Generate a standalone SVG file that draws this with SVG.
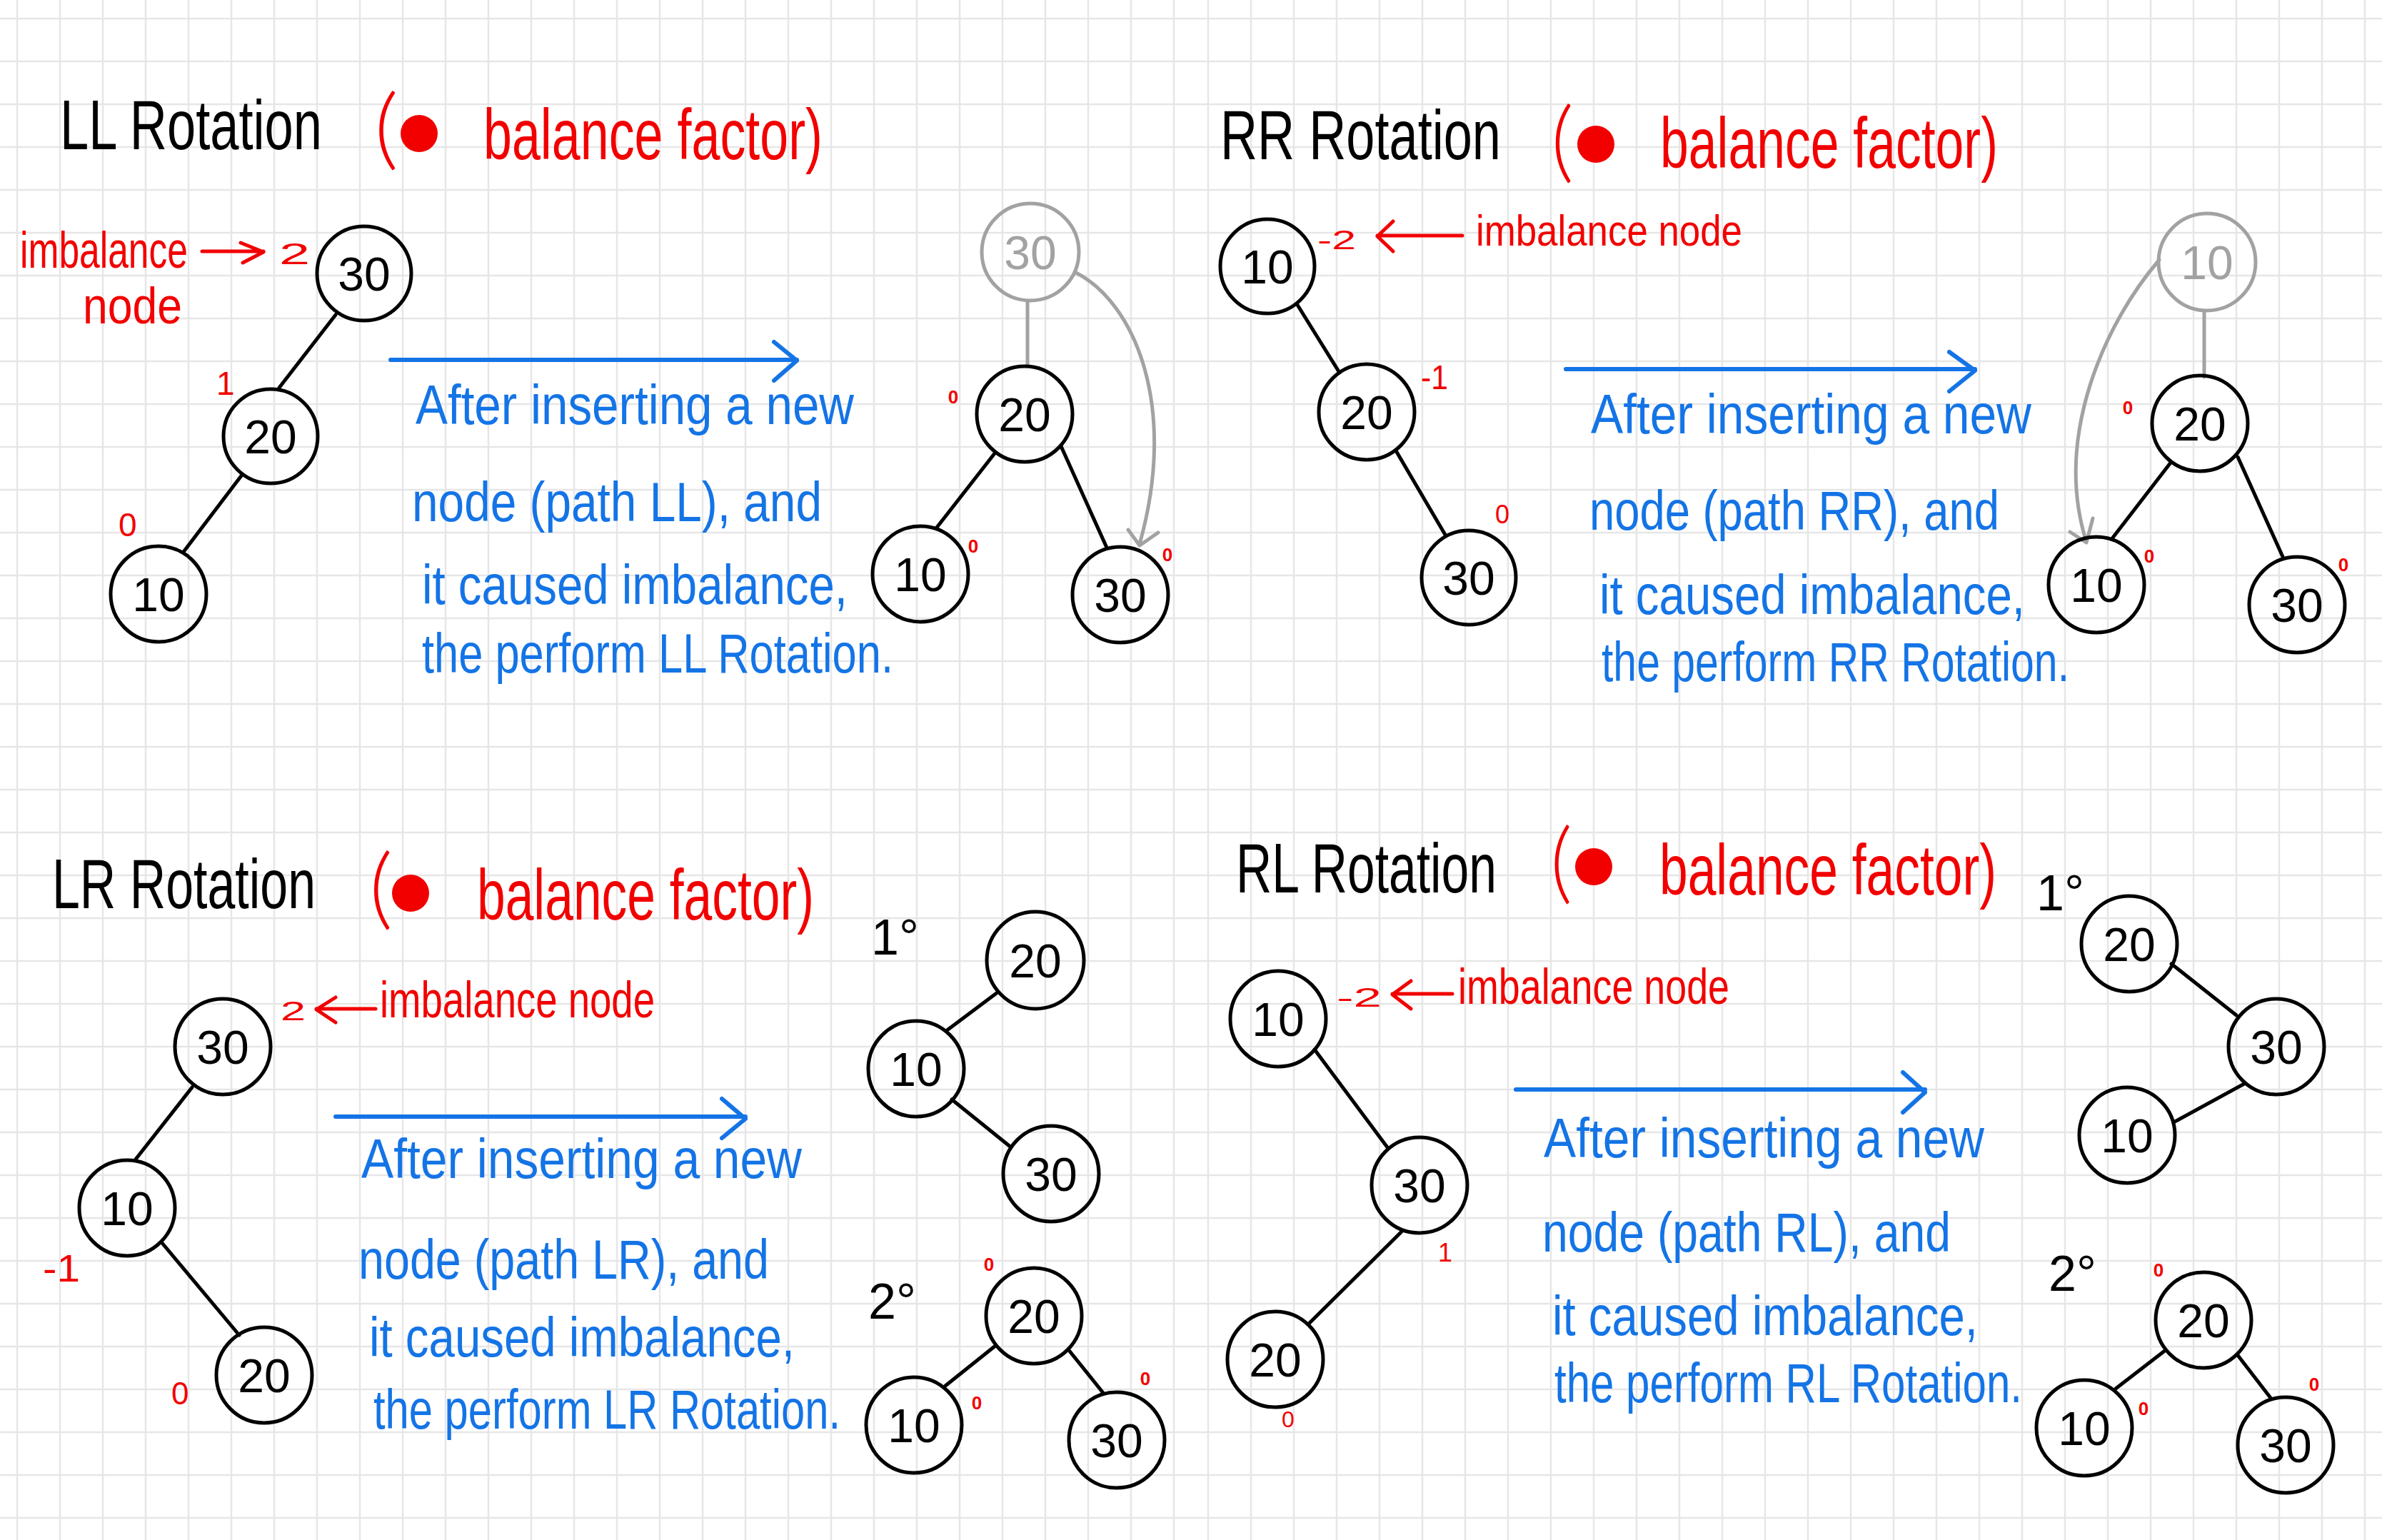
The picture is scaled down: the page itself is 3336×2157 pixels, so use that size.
<svg xmlns="http://www.w3.org/2000/svg" width="3336" height="2157" viewBox="0 0 3336 2157">
<defs>
<pattern id="gL" x="-6" y="-4" width="60" height="60" patternUnits="userSpaceOnUse"><path d="M30 0V60M0 30H60" stroke="#e6e6e6" stroke-width="2.5" fill="none"/></pattern>
<pattern id="gR" x="1662" y="-4" width="60" height="60" patternUnits="userSpaceOnUse"><path d="M30 0V60M0 30H60" stroke="#e6e6e6" stroke-width="2.5" fill="none"/></pattern>
</defs>
<style>
text{font-family:"Liberation Sans",Arial,sans-serif}
.title{font-size:98px;fill:#000}
.red{fill:#f20000}
.bf{font-size:100px;fill:#f20000}
.par{font-size:124px;fill:#f20000;font-family:Lato,"Liberation Sans",sans-serif;font-weight:300}
.blue{font-size:78px;fill:#1474e6}
.node circle{fill:none;stroke:#000;stroke-width:5}
.node text{font-size:66px;fill:#000;text-anchor:middle}
.ghost circle{fill:none;stroke:#a2a2a2;stroke-width:5}
.ghost text{font-size:66px;fill:#a2a2a2;text-anchor:middle}
.edge{stroke:#000;stroke-width:5;fill:none;stroke-linecap:round}
.gedge{stroke:#a2a2a2;stroke-width:5;fill:none;stroke-linecap:round;stroke-linejoin:round}
.barrow{stroke:#1474e6;stroke-width:6;fill:none;stroke-linecap:round;stroke-linejoin:round}
.rarrow{stroke:#f20000;stroke-width:5;fill:none;stroke-linecap:round;stroke-linejoin:round}
.z{font-size:26px;font-weight:bold;fill:#f20000;text-anchor:middle}
.step{font-size:70px;fill:#000}
</style>
<rect width="3336" height="2157" fill="#fff"/>
<rect x="0" y="0" width="1668" height="2157" fill="url(#gL)"/>
<rect x="1668" y="0" width="1668" height="2157" fill="url(#gR)"/>

<!-- Titles -->
<g id="titles">
<text class="title" x="84" y="209" textLength="367" lengthAdjust="spacingAndGlyphs">LL Rotation</text>
<text class="par" x="524" y="222" textLength="34" lengthAdjust="spacingAndGlyphs">(</text>
<circle cx="587" cy="187" r="26" fill="#f20000"/>
<text class="bf" x="677" y="223" textLength="475" lengthAdjust="spacingAndGlyphs">balance factor)</text>

<text class="title" x="1709" y="223" textLength="393" lengthAdjust="spacingAndGlyphs">RR Rotation</text>
<text class="par" x="2172" y="240" textLength="32" lengthAdjust="spacingAndGlyphs">(</text>
<circle cx="2235" cy="202" r="26" fill="#f20000"/>
<text class="bf" x="2325" y="235" textLength="473" lengthAdjust="spacingAndGlyphs">balance factor)</text>

<text class="title" x="73" y="1272" textLength="369" lengthAdjust="spacingAndGlyphs">LR Rotation</text>
<text class="par" x="517" y="1286" textLength="33" lengthAdjust="spacingAndGlyphs">(</text>
<circle cx="575" cy="1251" r="26" fill="#f20000"/>
<text class="bf" x="668" y="1288" textLength="472" lengthAdjust="spacingAndGlyphs">balance factor)</text>

<text class="title" x="1731" y="1250" textLength="365" lengthAdjust="spacingAndGlyphs">RL Rotation</text>
<text class="par" x="2171" y="1250" textLength="31" lengthAdjust="spacingAndGlyphs">(</text>
<circle cx="2232" cy="1214" r="26" fill="#f20000"/>
<text class="bf" x="2324" y="1253" textLength="472" lengthAdjust="spacingAndGlyphs">balance factor)</text>
</g>

<!-- Annotations -->
<g id="annotations">
<text class="red" x="28" y="375" font-size="72" textLength="235" lengthAdjust="spacingAndGlyphs">imbalance</text>
<text class="red" x="116" y="453" font-size="72" textLength="139" lengthAdjust="spacingAndGlyphs">node</text>
<text class="red" x="391" y="370" font-size="42" textLength="43" lengthAdjust="spacingAndGlyphs">2</text>
<text class="red" x="303" y="553" font-size="46">1</text>
<text class="red" x="166" y="751" font-size="46">0</text>

<text class="red" x="1845" y="349" font-size="36" textLength="54" lengthAdjust="spacingAndGlyphs">-2</text>
<text class="red" x="2067" y="344" font-size="62" textLength="373" lengthAdjust="spacingAndGlyphs">imbalance node</text>
<text class="red" x="1990" y="545" font-size="48" textLength="38" lengthAdjust="spacingAndGlyphs">-1</text>
<text class="red" x="2094" y="733" font-size="36">0</text>

<text class="red" x="393" y="1429" font-size="36" textLength="35" lengthAdjust="spacingAndGlyphs">2</text>
<text class="red" x="532" y="1425" font-size="72" textLength="385" lengthAdjust="spacingAndGlyphs">imbalance node</text>
<text class="red" x="60" y="1795" font-size="54" textLength="52" lengthAdjust="spacingAndGlyphs">-1</text>
<text class="red" x="240" y="1967" font-size="44">0</text>
<text class="step" x="1220" y="1337">1°</text>
<text class="step" x="1216" y="1847" font-size="62">2°</text>

<text class="red" x="1872" y="1410" font-size="36" textLength="63" lengthAdjust="spacingAndGlyphs">-2</text>
<text class="red" x="2042" y="1406" font-size="70" textLength="380" lengthAdjust="spacingAndGlyphs">imbalance node</text>
<text class="red" x="2014" y="1767" font-size="36">1</text>
<text class="red" x="1795" y="1999" font-size="32">0</text>
<text class="step" x="2852" y="1275" font-size="66">1°</text>
<text class="step" x="2869" y="1808" font-size="60">2°</text>

<text class="z" x="1335" y="565">0</text>
<text class="z" x="1363" y="774">0</text>
<text class="z" x="1635" y="786">0</text>
<text class="z" x="2980" y="580" font-size="30">0</text>
<text class="z" x="3010" y="788" font-size="30">0</text>
<text class="z" x="3282" y="800" font-size="30">0</text>
<text class="z" x="1385" y="1780">0</text>
<text class="z" x="1368" y="1974">0</text>
<text class="z" x="1604" y="1940">0</text>
<text class="z" x="3023" y="1788" font-size="30">0</text>
<text class="z" x="3002" y="1982" font-size="30">0</text>
<text class="z" x="3241" y="1948" font-size="30">0</text>
</g>

<!-- Descriptions -->
<g id="descriptions">
<text class="blue" x="582" y="594" textLength="614" lengthAdjust="spacingAndGlyphs">After inserting a new</text>
<text class="blue" x="577" y="730" textLength="574" lengthAdjust="spacingAndGlyphs">node (path LL), and</text>
<text class="blue" x="591" y="846" textLength="596" lengthAdjust="spacingAndGlyphs">it caused imbalance,</text>
<text class="blue" x="591" y="942" textLength="660" lengthAdjust="spacingAndGlyphs">the perform LL Rotation.</text>

<text class="blue" x="2228" y="607" textLength="617" lengthAdjust="spacingAndGlyphs">After inserting a new</text>
<text class="blue" x="2226" y="742" textLength="574" lengthAdjust="spacingAndGlyphs">node (path RR), and</text>
<text class="blue" x="2240" y="860" textLength="596" lengthAdjust="spacingAndGlyphs">it caused imbalance,</text>
<text class="blue" x="2243" y="954" textLength="655" lengthAdjust="spacingAndGlyphs">the perform RR Rotation.</text>

<text class="blue" x="506" y="1650" textLength="617" lengthAdjust="spacingAndGlyphs">After inserting a new</text>
<text class="blue" x="502" y="1791" textLength="575" lengthAdjust="spacingAndGlyphs">node (path LR), and</text>
<text class="blue" x="517" y="1900" textLength="596" lengthAdjust="spacingAndGlyphs">it caused imbalance,</text>
<text class="blue" x="523" y="2001" textLength="654" lengthAdjust="spacingAndGlyphs">the perform LR Rotation.</text>

<text class="blue" x="2162" y="1621" textLength="617" lengthAdjust="spacingAndGlyphs">After inserting a new</text>
<text class="blue" x="2160" y="1753" textLength="572" lengthAdjust="spacingAndGlyphs">node (path RL), and</text>
<text class="blue" x="2174" y="1870" textLength="596" lengthAdjust="spacingAndGlyphs">it caused imbalance,</text>
<text class="blue" x="2177" y="1964" textLength="655" lengthAdjust="spacingAndGlyphs">the perform RL Rotation.</text>
</g>

<!-- Connectors -->
<g id="connectors">
<path class="edge" d="M470 441L391 543M339 665L257 773"/>
<path class="edge" d="M1393 635L1311 740M1486 625L1550 767"/>
<path class="gedge" d="M1439 422V512M1507 382C1590 425 1650 570 1596 762M1580 742L1596 764L1622 746"/>
<path class="rarrow" d="M283 352H369M337 340L369 353L340 368"/>
<path class="barrow" d="M547 504H1116M1084 479L1116 505L1084 533"/>

<path class="edge" d="M1817 427L1876 522M1956 633L2024 749"/>
<path class="edge" d="M3040 648L2959 753M3134 640L3198 782"/>
<path class="gedge" d="M3087 437V528M3024 364C2950 450 2875 610 2922 759M2899 745L2922 760L2931 726"/>
<path class="rarrow" d="M1929 330H2048M1951 310L1929 331L1951 352"/>
<path class="barrow" d="M2193 517H2766M2730 493L2766 519L2730 548"/>

<path class="edge" d="M269 1523L189 1625M227 1741L335 1870"/>
<path class="edge" d="M1397 1390L1325 1444M1333 1540L1416 1607"/>
<path class="edge" d="M1394 1885L1324 1941M1496 1890L1545 1951"/>
<path class="rarrow" d="M443 1413H526M470 1397L443 1414L470 1432"/>
<path class="barrow" d="M470 1564H1044M1011 1539L1044 1567L1011 1594"/>

<path class="edge" d="M1841 1470L1943 1607M1963 1725L1834 1853"/>
<path class="edge" d="M3041 1350L3132 1422M3143 1518L3044 1572"/>
<path class="edge" d="M3033 1891L2963 1945M3133 1897L3180 1958"/>
<path class="rarrow" d="M1950 1392H2034M1976 1374L1950 1393L1976 1413"/>
<path class="barrow" d="M2123 1526H2696M2665 1502L2696 1530L2665 1558"/>
</g>

<!-- Nodes: LL -->
<g id="ll-30" class="node"><circle cx="510" cy="383" r="66"/><text x="510" y="407">30</text></g>
<g id="ll-20" class="node"><circle cx="379" cy="611" r="66"/><text x="379" y="635">20</text></g>
<g id="ll-10" class="node"><circle cx="222" cy="832" r="67"/><text x="222" y="856">10</text></g>
<g id="ll-r30g" class="ghost"><circle cx="1443" cy="353" r="68"/><text x="1443" y="377">30</text></g>
<g id="ll-r20" class="node"><circle cx="1435" cy="580" r="67"/><text x="1435" y="604">20</text></g>
<g id="ll-r10" class="node"><circle cx="1289" cy="804" r="67"/><text x="1289" y="828">10</text></g>
<g id="ll-r30" class="node"><circle cx="1569" cy="833" r="67"/><text x="1569" y="857">30</text></g>

<!-- Nodes: RR -->
<g id="rr-10" class="node"><circle cx="1775" cy="373" r="66"/><text x="1775" y="397">10</text></g>
<g id="rr-20" class="node"><circle cx="1914" cy="577" r="67"/><text x="1914" y="601">20</text></g>
<g id="rr-30" class="node"><circle cx="2057" cy="809" r="66"/><text x="2057" y="833">30</text></g>
<g id="rr-r10g" class="ghost"><circle cx="3091" cy="367" r="68"/><text x="3091" y="391">10</text></g>
<g id="rr-r20" class="node"><circle cx="3081" cy="593" r="67"/><text x="3081" y="617">20</text></g>
<g id="rr-r10" class="node"><circle cx="2936" cy="819" r="67"/><text x="2936" y="843">10</text></g>
<g id="rr-r30" class="node"><circle cx="3217" cy="847" r="67"/><text x="3217" y="871">30</text></g>

<!-- Nodes: LR -->
<g id="lr-30" class="node"><circle cx="312" cy="1466" r="67"/><text x="312" y="1490">30</text></g>
<g id="lr-10" class="node"><circle cx="178" cy="1692" r="67"/><text x="178" y="1716">10</text></g>
<g id="lr-20" class="node"><circle cx="370" cy="1926" r="67"/><text x="370" y="1950">20</text></g>
<g id="lr-a20" class="node"><circle cx="1450" cy="1345" r="68"/><text x="1450" y="1369">20</text></g>
<g id="lr-a10" class="node"><circle cx="1283" cy="1497" r="67"/><text x="1283" y="1521">10</text></g>
<g id="lr-a30" class="node"><circle cx="1472" cy="1644" r="67"/><text x="1472" y="1668">30</text></g>
<g id="lr-b20" class="node"><circle cx="1448" cy="1843" r="67"/><text x="1448" y="1867">20</text></g>
<g id="lr-b10" class="node"><circle cx="1280" cy="1996" r="67"/><text x="1280" y="2020">10</text></g>
<g id="lr-b30" class="node"><circle cx="1564" cy="2017" r="67"/><text x="1564" y="2041">30</text></g>

<!-- Nodes: RL -->
<g id="rl-10" class="node"><circle cx="1790" cy="1427" r="67"/><text x="1790" y="1451">10</text></g>
<g id="rl-30" class="node"><circle cx="1988" cy="1660" r="67"/><text x="1988" y="1684">30</text></g>
<g id="rl-20" class="node"><circle cx="1786" cy="1904" r="67"/><text x="1786" y="1928">20</text></g>
<g id="rl-a20" class="node"><circle cx="2982" cy="1322" r="67"/><text x="2982" y="1346">20</text></g>
<g id="rl-a30" class="node"><circle cx="3188" cy="1466" r="67"/><text x="3188" y="1490">30</text></g>
<g id="rl-a10" class="node"><circle cx="2979" cy="1590" r="67"/><text x="2979" y="1614">10</text></g>
<g id="rl-b20" class="node"><circle cx="3086" cy="1849" r="67"/><text x="3086" y="1873">20</text></g>
<g id="rl-b10" class="node"><circle cx="2919" cy="2000" r="67"/><text x="2919" y="2024">10</text></g>
<g id="rl-b30" class="node"><circle cx="3201" cy="2024" r="67"/><text x="3201" y="2048">30</text></g>
</svg>
